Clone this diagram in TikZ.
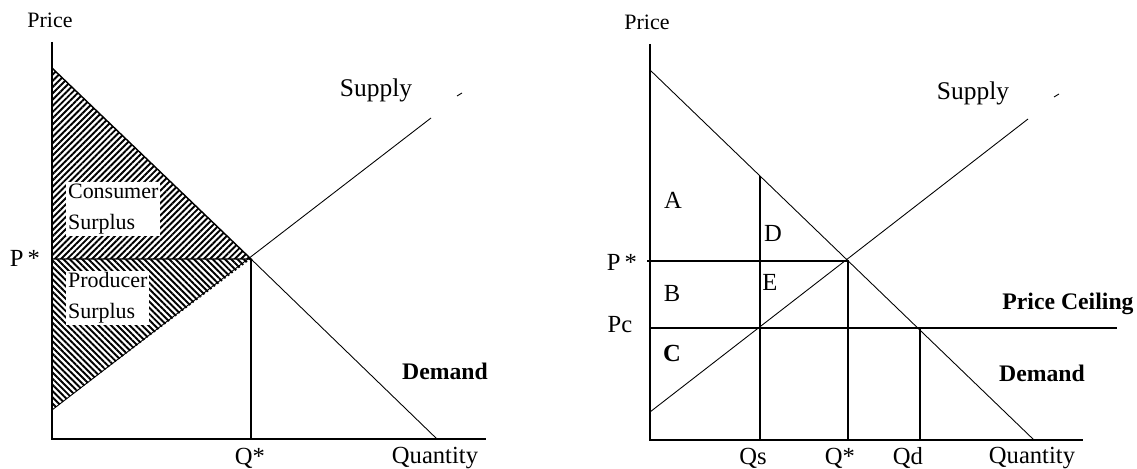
\documentclass[tikz,border=0pt]{standalone}
\usepackage{fontspec}
\setmainfont{Liberation Serif}
\usetikzlibrary{patterns.meta}

\begin{document}
\begin{tikzpicture}[x=0.02cm, y=-0.02cm,
  axis/.style={line width=0.8pt},
  curve/.style={line width=0.5pt},
  guide/.style={line width=0.8pt},
  lbl/.style={font=\fontsize{12.5}{14}\selectfont},
  axlbl/.style={font=\fontsize{14}{16}\selectfont},
  big/.style={font=\fontsize{14.5}{16}\selectfont},
  heavy/.style={font=\fontsize{13.5}{16}\selectfont\bfseries},
  cs/.style={pattern={Lines[angle=45,distance=2.5pt,line width=1.1pt]}},
  ps/.style={pattern={Lines[angle=-45,distance=2.5pt,line width=1.1pt]}},
  areabox/.style={fill=white, inner sep=1pt, align=left, anchor=west,
      font=\fontsize{12.5}{17.5}\selectfont},
]
\useasboundingbox (0,0) rectangle (1137,469);

% ---- left panel: surplus ----
\coordinate (O1) at (52,439);
\coordinate (top1) at (52,42);
\coordinate (end1) at (486,439);
\coordinate (d1a) at (52,68);
\coordinate (d1b) at (437,439);
\coordinate (s1a) at (52,410);
\coordinate (s1b) at (431,118);
\coordinate (e1) at (251,259);
\coordinate (p1) at (52,259);
\coordinate (q1) at (251,439);

\fill[cs] (d1a) -- (e1) -- (p1) -- cycle;
\fill[ps] (p1) -- (e1) -- (s1a) -- cycle;
\node[areabox] (cons) at (66,209) {Consumer\\Surplus};
\node[areabox] (prod) at (66,298) {Producer\\Surplus};

\draw[guide] (d1a) -- (e1) -- (p1);
\draw[guide] (e1) -- (q1);
\draw[curve] (e1) -- (d1b);
\draw[curve] (s1a) -- (s1b);
\draw[curve] (457,96) -- (462,93);
\draw[axis] (top1) -- (O1) -- (end1);

\node[lbl] (price1) at (50,20) {Price};
\node[big] (sup1) at (376,90) {Supply};
\node[heavy] (dem1) at (445,371) {Demand};
\node[axlbl] (pstar1) at (25,258) {P\,*};
\node[axlbl] (qstar1) at (250,458) {Q*};
\node[axlbl] (qty1) at (435,458) {Quantity};

% ---- right panel: price ceiling ----
\coordinate (O2) at (650,440);
\coordinate (top2) at (650,44);
\coordinate (end2) at (1083,440);
\coordinate (d2a) at (650,70);
\coordinate (d2b) at (1034,440);
\coordinate (s2a) at (650,412);
\coordinate (s2b) at (1028,119);
\coordinate (e2) at (848,261);
\coordinate (p2) at (647,261);
\coordinate (pc2) at (650,328);
\coordinate (pcend) at (1117,328);
\coordinate (qs) at (760,440);
\coordinate (qstop) at (760,176);
\coordinate (qd) at (920,440);
\coordinate (qdtop) at (920,328);

\draw[curve] (d2a) -- (d2b);
\draw[curve] (s2a) -- (s2b);
\draw[curve] (1054,97) -- (1059,94);
\draw[guide] (p2) -- (e2) -- (e2 |- O2);
\draw[guide] (pc2) -- (pcend);
\draw[guide] (qs) -- (qstop);
\draw[guide] (qd) -- (qdtop);
\draw[axis] (top2) -- (O2) -- (end2);

\node[lbl] (price2) at (647,22) {Price};
\node[big] (sup2) at (973,93) {Supply};
\node[heavy] (ceil) at (1068,304) {Price Ceiling};
\node[heavy] (dem2) at (1042,373) {Demand};
\node[axlbl] (pstar2) at (622,262) {P\,*};
\node[axlbl] (pc) at (620,325) {Pc};
\node[axlbl] (qslbl) at (753,458) {Qs};
\node[axlbl] (qstar2) at (840,458) {Q*};
\node[axlbl] (qdlbl) at (908,458) {Qd};
\node[axlbl] (qty2) at (1032,458) {Quantity};
\node[axlbl] (A) at (673,200) {A};
\node[axlbl] (D) at (773,233) {D};
\node[axlbl] (B) at (672,293) {B};
\node[axlbl] (E) at (770,282) {E};
\node[axlbl, font=\fontsize{14}{16}\selectfont\bfseries] (C) at (672,353) {C};
\end{tikzpicture}
\end{document}
